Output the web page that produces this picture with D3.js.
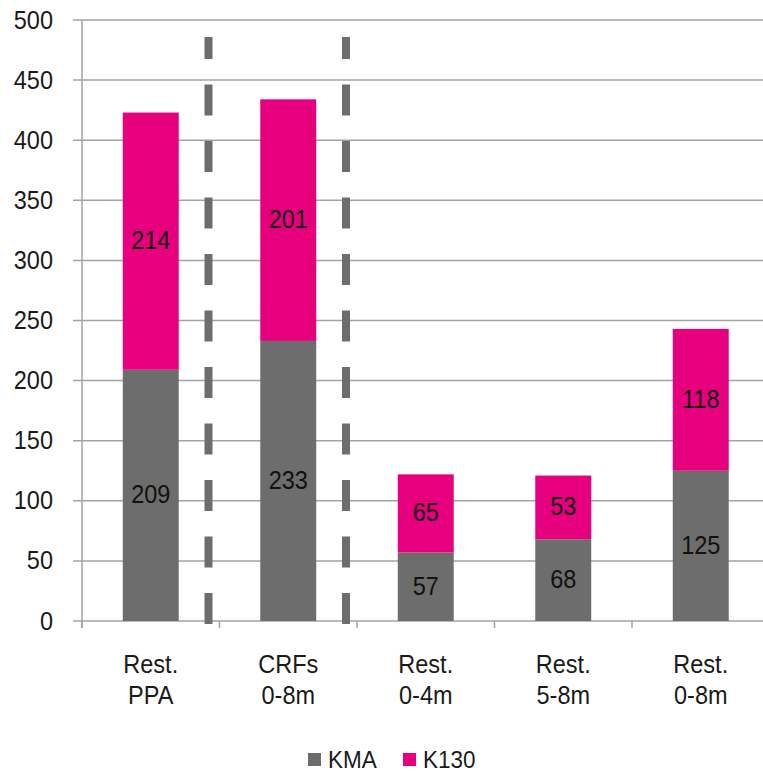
<!DOCTYPE html>
<html><head><meta charset="utf-8">
<script src="https://cdn.jsdelivr.net/npm/d3@7"></script>
<style>html,body{margin:0;padding:0;background:#fff;}svg{display:block;}</style>
</head><body>
<svg id="c" width="763" height="773"></svg>
<script>
const categories = [["Rest.","PPA"],["CRFs","0-8m"],["Rest.","0-4m"],["Rest.","5-8m"],["Rest.","0-8m"]];
const kma = [209, 233, 57, 68, 125];
const k130 = [214, 201, 65, 53, 118];
const yTicks = [0,50,100,150,200,250,300,350,400,450,500];
const seriesNames = ["KMA","K130"];
const colors = ["#6d6d6d","#e6007e"];
const dividerAfter = [0, 1]; // dashed separators after these category indices

const svg = d3.select("#c");
const font = "'Liberation Sans', Arial, sans-serif";
const pLeft = 82, pRight = 769.5, pTop = 20, pBottom = 621;
const x = d3.scaleBand().domain(d3.range(categories.length)).range([pLeft, pRight]).paddingInner(0.593).paddingOuter(0.2965);
const y = d3.scaleLinear().domain([0, 500]).range([pBottom, pTop]);
const gridColor = "#a3a3a3";

// gridlines + y ticks
svg.append("g").selectAll("line").data(yTicks).join("line")
  .attr("x1", 73).attr("x2", 763).attr("y1", d => y(d)).attr("y2", d => y(d))
  .attr("stroke", gridColor).attr("stroke-width", 1.5);
// y axis
svg.append("line").attr("x1", pLeft).attr("x2", pLeft).attr("y1", pTop).attr("y2", pBottom + 7)
  .attr("stroke", gridColor).attr("stroke-width", 1.5);
// x ticks at band boundaries
const bounds = d3.range(categories.length + 1).map(i => pLeft + i * x.step());
svg.append("g").selectAll("line").data(bounds).join("line")
  .attr("x1", d => d).attr("x2", d => d).attr("y1", pBottom).attr("y2", pBottom + 7)
  .attr("stroke", gridColor).attr("stroke-width", 1.5);

// y tick labels
const sy = 1.13;
svg.append("g").selectAll("g").data(yTicks).join("g")
  .attr("transform", d => `translate(53,${y(d) + 8.5}) scale(1,${sy})`)
  .append("text").attr("text-anchor", "end").attr("font-family", font).attr("font-size", 23.5)
  .attr("fill", "#1a1a1a").text(d => d);

// stacked data
const rows = categories.map((c, i) => ({i, KMA: kma[i], K130: k130[i]}));
const stack = d3.stack().keys(seriesNames)(rows);
stack.forEach((layer, li) => {
  svg.append("g").selectAll("rect").data(layer).join("rect")
    .attr("x", (d, i) => x(i)).attr("width", x.bandwidth())
    .attr("y", d => y(d[1])).attr("height", d => y(d[0]) - y(d[1]))
    .attr("fill", colors[li]);
  svg.append("g").selectAll("g").data(layer).join("g")
    .attr("transform", (d, i) => `translate(${x(i) + x.bandwidth() / 2},${(y(d[0]) + y(d[1])) / 2 + 8}) scale(1,${sy})`)
    .append("text").attr("text-anchor", "middle").attr("font-family", font).attr("font-size", 23.5)
    .attr("fill", "#111").text(d => d[1] - d[0]);
});

// dashed dividers
dividerAfter.forEach(k => {
  const xx = x(k) + x.bandwidth() + (x.step() - x.bandwidth()) / 2 - 11;
  svg.append("line").attr("x1", xx).attr("x2", xx).attr("y1", 624).attr("y2", 37)
    .attr("stroke", "#6d6d6d").attr("stroke-width", 8).attr("stroke-dasharray", "31,25.5");
});

// category labels
const cl = svg.append("g").selectAll("g").data(categories).join("g");
cl.each(function(lines, i) {
  lines.forEach((t, j) => {
    d3.select(this).append("g")
      .attr("transform", `translate(${x(i) + x.bandwidth() / 2},${673 + j * 31}) scale(1,${sy})`)
      .append("text").attr("text-anchor", "middle").attr("font-family", font).attr("font-size", 23.5)
      .attr("fill", "#1a1a1a").text(t);
  });
});

// legend
const legendX = [308, 403];
seriesNames.forEach((n, i) => {
  svg.append("rect").attr("x", legendX[i]).attr("y", 753).attr("width", 13).attr("height", 13).attr("fill", colors[i]);
  svg.append("g").attr("transform", `translate(${legendX[i] + 20},768) scale(1,1.08)`)
    .append("text").attr("font-family", font).attr("font-size", 22.5).attr("fill", "#1a1a1a").text(n);
});
</script>
</body></html>
